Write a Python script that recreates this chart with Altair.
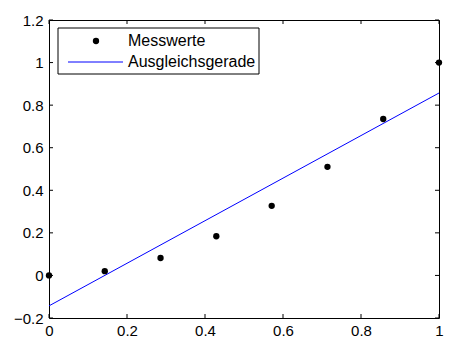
import altair as alt
import pandas as pd

# Data
x_mess = [0.0, 0.143, 0.286, 0.429, 0.571, 0.714, 0.857, 1.0]
y_mess = [0.0, 0.02, 0.082, 0.184, 0.327, 0.51, 0.735, 1.0]
x_fit = [0.0, 1.0]
y_fit = [-0.143, 0.857]
x_ticks = [0.0, 0.2, 0.4, 0.6, 0.8, 1.0]
y_ticks = [-0.2, 0.0, 0.2, 0.4, 0.6, 0.8, 1.0, 1.2]
series = ["Messwerte", "Ausgleichsgerade"]

W, H = 390, 298
FONT = "Liberation Sans"
FS = 16
TFS = 15

mess = pd.DataFrame({"x": x_mess, "y": y_mess})
fit = pd.DataFrame({"x": x_fit, "y": y_fit})
xt = pd.DataFrame({"v": x_ticks})
yt = pd.DataFrame({"v": y_ticks})
leg = pd.DataFrame({"name": series})

xs = alt.Scale(domain=[0, 1], nice=False, zero=False)
ys = alt.Scale(domain=[-0.2, 1.2], nice=False, zero=False)

x_axis = alt.Axis(values=x_ticks, format=".1~f", tickSize=0, domain=False, grid=False,
                  labelPadding=5, title=None, labelFlush=False, labelOverlap=False,
                  labelFont=FONT, labelFontSize=TFS, labelColor="black")
y_axis = alt.Axis(values=y_ticks, format=".1~f", tickSize=0, domain=False, grid=False,
                  labelPadding=6, title=None, labelFlush=False, labelOverlap=False,
                  labelFont=FONT, labelFontSize=TFS, labelColor="black")

line = alt.Chart(fit).mark_line(color="#0000ff", strokeWidth=1, clip=False).encode(
    x=alt.X("x:Q", scale=xs, axis=x_axis),
    y=alt.Y("y:Q", scale=ys, axis=y_axis),
)

points = alt.Chart(mess).mark_circle(color="black", size=40, opacity=1).encode(
    x=alt.X("x:Q", scale=xs),
    y=alt.Y("y:Q", scale=ys),
)

tick_bottom = alt.Chart(xt).mark_rule(color="black", strokeWidth=1).encode(
    x=alt.X("v:Q", scale=xs), y=alt.value(H), y2=alt.value(H - 4))
tick_top = alt.Chart(xt).mark_rule(color="black", strokeWidth=1).encode(
    x=alt.X("v:Q", scale=xs), y=alt.value(0), y2=alt.value(4))
tick_left = alt.Chart(yt).mark_rule(color="black", strokeWidth=1).encode(
    y=alt.Y("v:Q", scale=ys), x=alt.value(0), x2=alt.value(4))
tick_right = alt.Chart(yt).mark_rule(color="black", strokeWidth=1).encode(
    y=alt.Y("v:Q", scale=ys), x=alt.value(W), x2=alt.value(W - 4))

# Legend (drawn manually, MATLAB style)
leg_box = alt.Chart(pd.DataFrame({"name": ["box"]})).mark_rect(
    fill="white", stroke="black", strokeWidth=1).encode(
    x=alt.value(9), x2=alt.value(210), y=alt.value(8), y2=alt.value(54))
leg_dot = alt.Chart(leg.iloc[[0]]).mark_circle(color="black", size=40, opacity=1).encode(
    x=alt.value(47), y=alt.value(21))
leg_line = alt.Chart(leg.iloc[[1]]).mark_rule(color="#0000ff", strokeWidth=1).encode(
    x=alt.value(19), x2=alt.value(74), y=alt.value(42))
leg_text = alt.Chart(leg).transform_calculate(
    ypos="datum.name == 'Messwerte' ? 21 : 42"
).mark_text(align="left", baseline="middle", font=FONT, fontSize=FS, color="black").encode(
    x=alt.value(79),
    y=alt.Y("ypos:Q", scale=None),
    text="name:N",
)

chart = alt.layer(
    line, points, tick_bottom, tick_top, tick_left, tick_right,
    leg_box, leg_dot, leg_line, leg_text
).properties(
    width=W, height=H,
    background="white",
    autosize=alt.AutoSizeParams(type="none"),
    padding={"left": 41, "top": 12, "right": 5, "bottom": 21},
).configure_view(
    stroke="black", strokeWidth=1
)

chart.save("out.html", embed_options={"renderer": "svg", "actions": False})
